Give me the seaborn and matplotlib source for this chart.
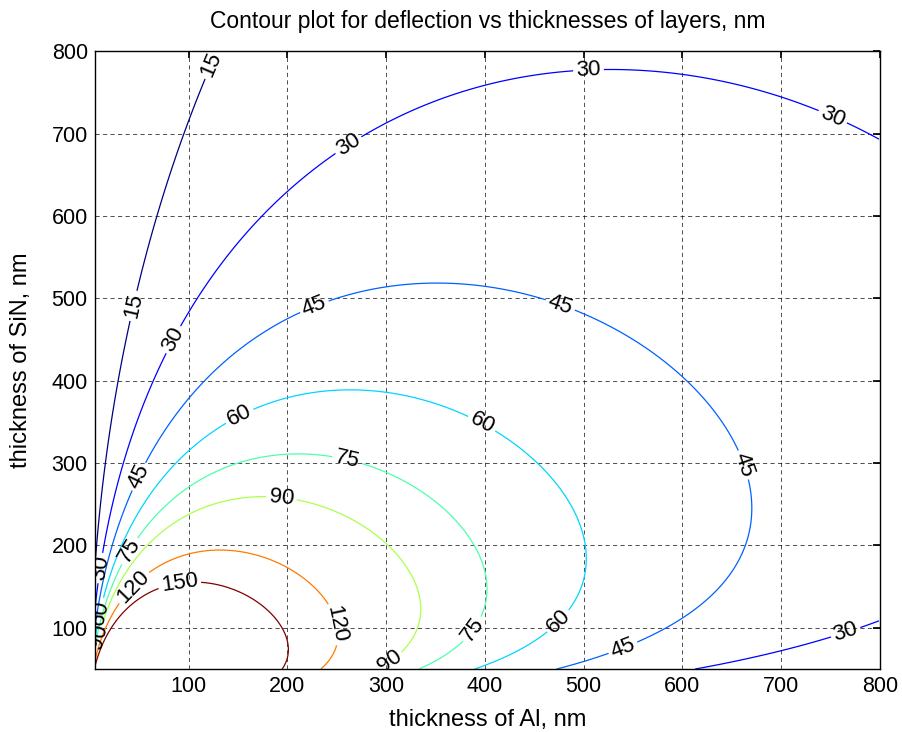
import numpy as np
import matplotlib
matplotlib.use("Agg")
import matplotlib.pyplot as plt
from matplotlib.colors import Normalize
import seaborn as sns

# Layer thickness ranges, nm
t_al = np.arange(5, 801, 2.0)
t_sin = np.arange(50, 801, 2.0)

# Bimorph material and geometry parameters
E_al = 70.0        # GPa
E_sin = 140.0      # GPa
alpha_al = 23.1e-6  # 1/K
alpha_sin = 2.3e-6  # 1/K
delta_T = 1.16      # K
beam_length = 50e3  # nm

# Contour levels drawn, nm
levels = [15, 30, 45, 60, 75, 90, 120, 150]

# Label anchor points for each level (thickness of Al, thickness of SiN)
label_spots = {
    15: [(124, 783), (44, 491)],
    30: [(264, 682), (505, 774), (752, 720), (67, 461), (14, 172), (767, 88)],
    45: [(228, 488), (476, 491), (660, 297), (54, 281), (541, 72)],
    60: [(153, 354), (396, 346), (476, 106), (12, 118)],
    75: [(260, 300), (42, 192), (390, 96)],
    90: [(194, 256), (298, 68), (12, 88)],
    120: [(48, 145), (244, 103)],
    150: [(92, 145)],
}

# Timoshenko bimorph curvature and tip deflection
T1, T2 = np.meshgrid(t_al, t_sin)
denom = (E_al**2 * T1**4 + 4 * E_al * E_sin * T1**3 * T2
         + 6 * E_al * E_sin * T1**2 * T2**2 + 4 * E_al * E_sin * T1 * T2**3
         + E_sin**2 * T2**4)
curv = 6 * E_al * E_sin * T1 * T2 * (T1 + T2) * (alpha_al - alpha_sin) * delta_T / denom
deflection = curv * beam_length**2 / 2

sns.set_theme(style="white")
plt.rcParams["font.family"] = ["Liberation Sans", "DejaVu Sans"]
plt.rcParams["text.color"] = "black"
plt.rcParams["axes.labelcolor"] = "black"

fig = plt.figure(figsize=(9.02, 7.32), dpi=100)
ax = fig.add_axes([0.105, 0.086, 0.8706, 0.844])

cmap = plt.get_cmap("jet")
norm = Normalize(vmin=min(levels), vmax=max(levels))

for lev in levels:
    cs = ax.contour(T1, T2, deflection, levels=[lev],
                    colors=[cmap(norm(lev))], linewidths=0.9)
    ax.clabel(cs, manual=label_spots[lev], inline=True, inline_spacing=3,
              fontsize=16, colors="black", fmt="%d")

ax.set_xlim(5, 800)
ax.set_ylim(50, 800)
ax.set_xticks(np.arange(100, 801, 100))
ax.set_yticks(np.arange(100, 801, 100))
ax.grid(True, color="black", linestyle=(0, (5, 4)), linewidth=0.6, alpha=0.8)
ax.tick_params(axis="both", direction="in", length=5, labelsize=15.5,
               top=True, right=True, colors="black", labelcolor="black", pad=5)
for sp in ax.spines.values():
    sp.set_color("black")
    sp.set_linewidth(1.0)

ax.set_title("Contour plot for deflection vs thicknesses of layers, nm",
             fontsize=16.5, pad=17, color="black")
ax.set_xlabel("thickness of Al, nm", fontsize=17, labelpad=9, color="black")
ax.set_ylabel("thickness of SiN, nm", fontsize=17, labelpad=14, color="black")

fig.savefig("out.png", dpi=100, facecolor="white")
